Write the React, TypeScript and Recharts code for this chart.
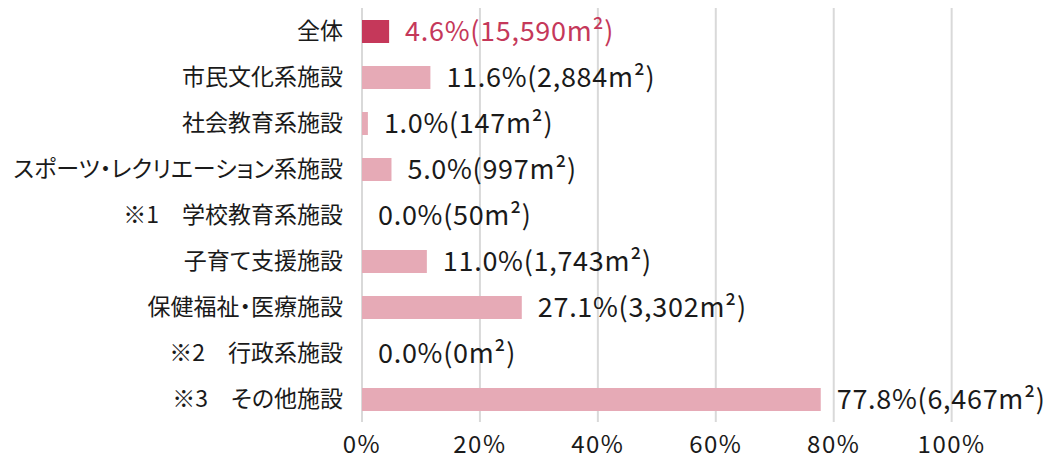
import React from 'react';
import { BarChart, Bar, XAxis, YAxis, CartesianGrid, Cell, LabelList } from 'recharts';

const categories = [
  '全体',
  '市民文化系施設',
  '社会教育系施設',
  'スポーツ・レクリエーション系施設',
  '※1　学校教育系施設',
  '子育て支援施設',
  '保健福祉・医療施設',
  '※2　行政系施設',
  '※3　その他施設',
];
const percents = [4.6, 11.6, 1.0, 5.0, 0.0, 11.0, 27.1, 0.0, 77.8];
const areas = ['15,590', '2,884', '147', '997', '50', '1,743', '3,302', '0', '6,467'];
const xTicks = [0, 20, 40, 60, 80, 100];

const FONT = '"Noto Sans CJK JP", "Noto Sans", sans-serif';
const DARK = '#c5385a';
const PINK = '#e6aab6';
const INK = '#1a1a1a';

const data = categories.map((name, i) => ({
  name,
  pct: percents[i],
  text: `${percents[i].toFixed(1)}%(${areas[i]}m²)`,
}));

const renderLabel = (props: any) => {
  const { x, y, width, height, value, index } = props;
  return (
    <text
      x={Number(x) + Number(width) + 16}
      y={Number(y) + Number(height) / 2}
      dy="0.36em"
      fontSize={27}
      letterSpacing={0.7}
      fontFamily={FONT}
      fill={index === 0 ? DARK : INK}
    >
      {value}
    </text>
  );
};

function CategoryTick(props: any) {
  const { x, y, payload } = props;
  return (
    <text
      x={x}
      y={y}
      dy="0.36em"
      textAnchor="end"
      fontSize={23}
      fontFamily={FONT}
      fill={INK}
      style={{ fontFeatureSettings: '"palt"' }}
    >
      {payload.value}
    </text>
  );
}

function PercentTick(props: any) {
  const { x, y, payload } = props;
  return (
    <text
      x={x}
      y={y}
      dy="0.72em"
      textAnchor="middle"
      fontSize={24}
      letterSpacing={1.5}
      fontFamily={FONT}
      fill={INK}
    >
      {`${payload.value}%`}
    </text>
  );
}

export default function App() {
  return (
    <div style={{ position: 'absolute', left: 0, top: 0, width: 1054, height: 461, background: '#fff' }}>
      <BarChart
        width={1054}
        height={461}
        data={data}
        layout="vertical"
        margin={{ top: 8, right: 8, bottom: 0, left: 0 }}
      >
        <CartesianGrid horizontal={false} stroke="#d9d9d9" strokeWidth={2} syncWithTicks />
        <XAxis
          type="number"
          dataKey="pct"
          domain={[0, 116]}
          ticks={xTicks}
          axisLine={false}
          tickLine={false}
          height={39}
          tickMargin={8}
          tick={<PercentTick />}
        />
        <YAxis
          type="category"
          dataKey="name"
          width={362}
          axisLine={false}
          tickLine={false}
          tickMargin={13}
          interval={0}
          tick={<CategoryTick />}
        />
        <Bar dataKey="pct" barSize={23} minPointSize={0.01} isAnimationActive={false}>
          {data.map((_, i) => (
            <Cell key={i} fill={i === 0 ? DARK : PINK} />
          ))}
          <LabelList dataKey="text" content={renderLabel} />
        </Bar>
      </BarChart>
    </div>
  );
}
